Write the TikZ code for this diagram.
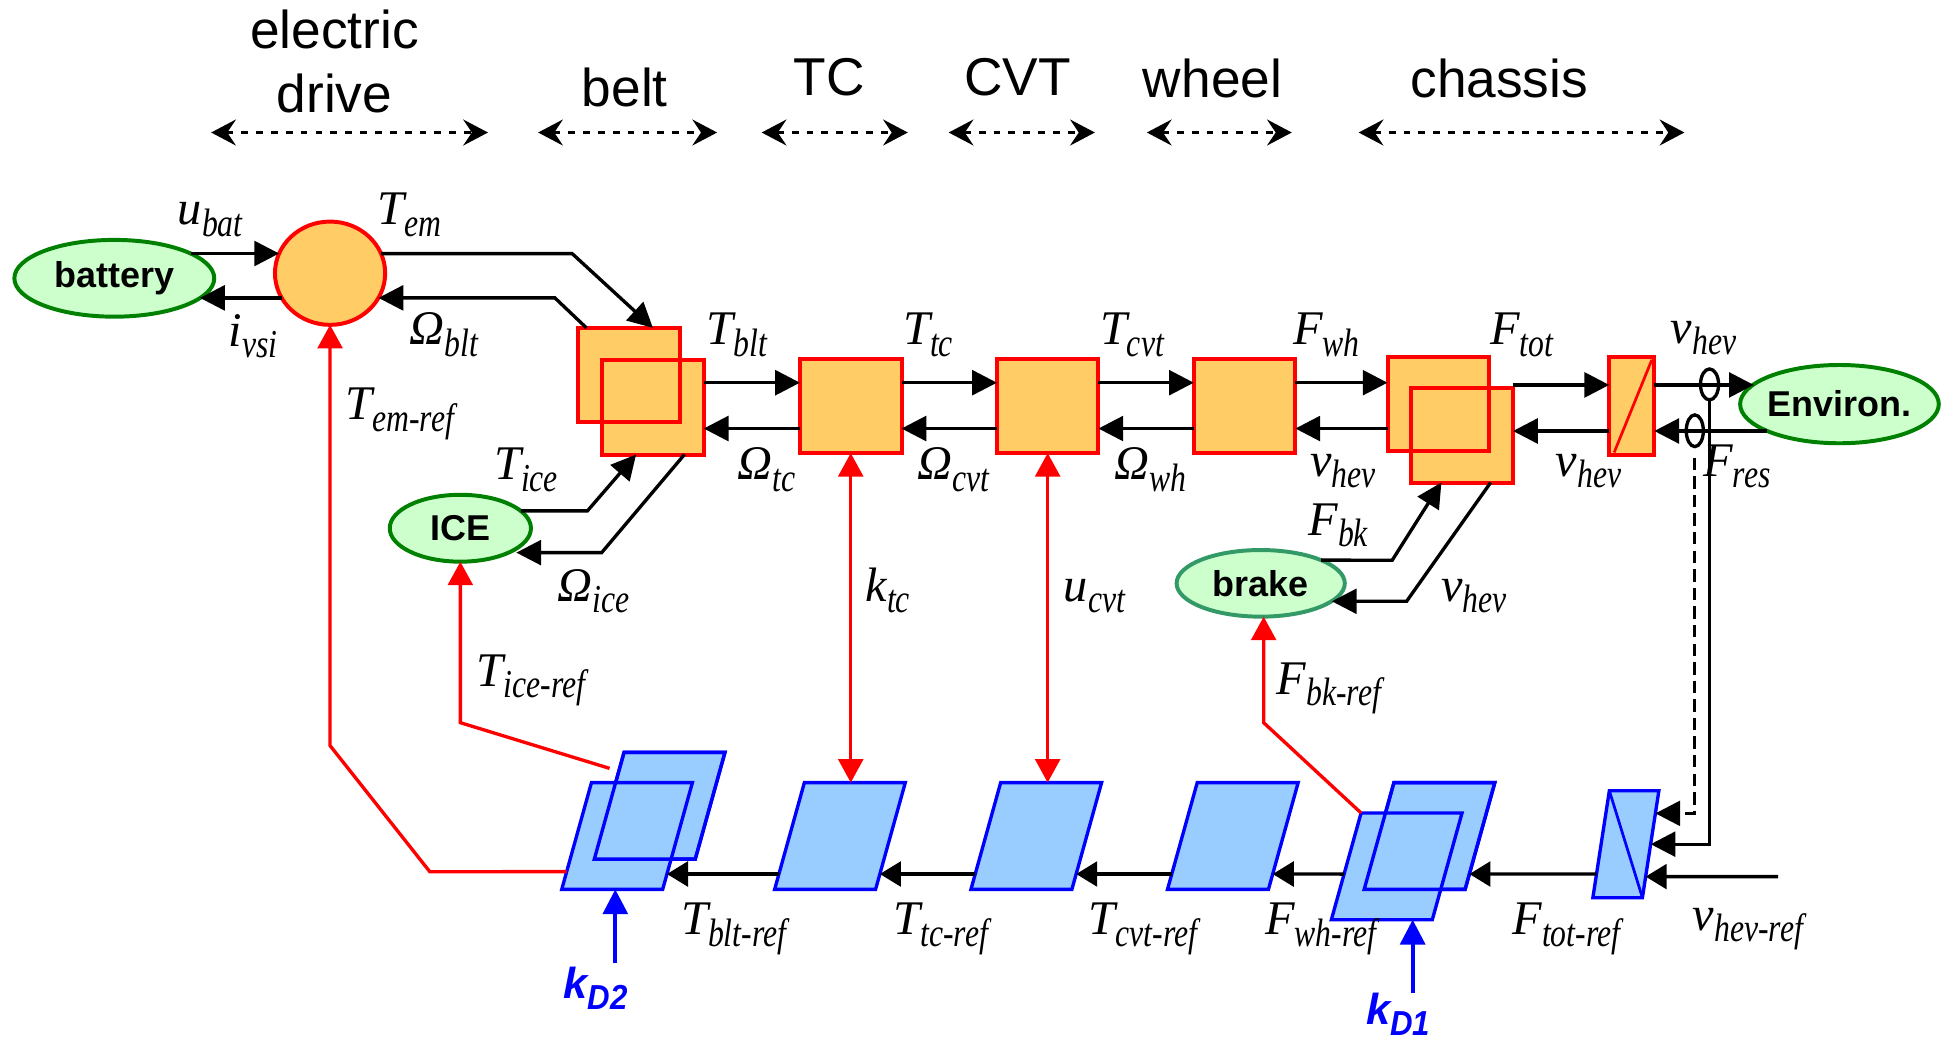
\documentclass[tikz,border=0pt]{standalone}
\usepackage{fontspec}
\setmainfont{Liberation Serif}
\newfontfamily\subf[FakeStretch=0.8]{Liberation Serif}
\newfontfamily\hdrf{Liberation Sans}
\newfontfamily\kdsub[FakeStretch=0.9]{Liberation Sans}
\usetikzlibrary{arrows.meta,shapes.geometric,calc}
\definecolor{orng}{RGB}{255,204,102}
\definecolor{grfill}{RGB}{204,255,204}
\definecolor{grline}{RGB}{0,128,0}
\definecolor{brline}{RGB}{51,153,102}
\definecolor{blfill}{RGB}{153,204,255}
\definecolor{blline}{RGB}{0,0,255}
\definecolor{redl}{RGB}{255,0,0}
\newcommand{\ml}[2]{\fontsize{39}{39}\selectfont\itshape #1\raisebox{-9pt}{\subf\itshape\fontsize{32}{32}\selectfont #2}}
\newcommand{\kd}[2]{\hdrf\bfseries\itshape\fontsize{35}{35}\selectfont #1\raisebox{-9pt}{\kdsub\bfseries\itshape\fontsize{28}{28}\selectfont #2}}
\begin{document}
\begin{tikzpicture}[x=1pt,y=-1pt,
  hdr/.style={font=\hdrf\fontsize{43}{43}\selectfont, anchor=base, inner sep=0pt},
  harr/.style={line width=2.1pt, dash pattern=on 5.5pt off 6.5pt, {Stealth[length=20pt,width=21pt,inset=7pt]}-{Stealth[length=20pt,width=21pt,inset=7pt]}},
  blk/.style={rectangle, draw=redl, fill=orng, line width=3.2pt, minimum width=82pt, minimum height=76pt, inner sep=0pt, outer sep=0pt},
  blkline/.style={draw=redl, line width=3.2pt},
  emc/.style={ellipse, draw=redl, fill=orng, line width=3.2pt, inner sep=0pt, outer sep=0pt, minimum width=89pt, minimum height=83.4pt},
  ell/.style={ellipse, draw=grline, fill=grfill, line width=3.2pt, inner sep=-10pt, outer sep=0pt, font=\hdrf\bfseries\fontsize{29}{29}\selectfont},
  sens/.style={ellipse, draw=black, line width=2.7pt, inner sep=0pt, outer sep=0pt},
  parabase/.style={draw=blline, fill=blfill, line width=2.7pt, inner sep=0pt, outer sep=0pt, transform shape},
  para/.style={parabase, minimum width=81.5pt, minimum height=86.2pt, xslant=0.2784},
  paraline/.style={draw=blline, line width=2.7pt},
  conn/.style={draw=black, line width=2.7pt, -{Triangle[length=20pt,width=20pt]}},
  conn2/.style={draw=black, line width=2.7pt, -{Triangle[length=17pt,width=20pt]}},
  rline/.style={draw=redl, line width=2.7pt},
  rconn/.style={rline, -{Triangle[length=19pt,width=20pt]}},
  rboth/.style={rline, {Triangle[length=19pt,width=20pt]}-{Triangle[length=19pt,width=20pt]}},
  bconn/.style={draw=blline, line width=3pt, -{Triangle[length=20pt,width=20pt]}},
  lab/.style={anchor=base west, inner sep=0pt, outer sep=0pt},
]
\useasboundingbox (0,0) rectangle (1568,842);

% ---------- header ----------
\node[hdr] (hElec) at (270,39) {electric};
\node[hdr] (hDrive) at (270,91) {drive};
\node[hdr] (hBelt) at (504.5,86) {belt};
\node[hdr] (hTC) at (669.5,77) {TC};
\node[hdr] (hCVT) at (821.5,77) {CVT};
\node[hdr] (hWheel) at (979,79) {wheel};
\node[hdr] (hChassis) at (1210.5,79) {chassis};
\coordinate (a1l) at (170.5,107); \coordinate (a1r) at (394,107);
\coordinate (a2l) at (434.5,107); \coordinate (a2r) at (579,107);
\coordinate (a3l) at (615,107);   \coordinate (a3r) at (733,107);
\coordinate (a4l) at (766,107);   \coordinate (a4r) at (884,107);
\coordinate (a5l) at (926,107);   \coordinate (a5r) at (1043,107);
\coordinate (a6l) at (1097,107);  \coordinate (a6r) at (1360,107);
\draw[harr] (a1l) -- (a1r);
\draw[harr] (a2l) -- (a2r);
\draw[harr] (a3l) -- (a3r);
\draw[harr] (a4l) -- (a4r);
\draw[harr] (a5l) -- (a5r);
\draw[harr] (a6l) -- (a6r);

% ---------- top row nodes ----------
\node[ell, minimum width=161.4pt, minimum height=62pt] (bat) at (92.3,224.7) {battery};
\node[emc] (EM) at (266.5,220.6) {};
\node[blk] (beltB) at (507.9,302.7) {};
\node[blk] (beltF) at (527.2,329) {};
\draw[blkline] (beltB.north west) rectangle (beltB.south east);
\node[blk] (TC) at (686.9,327.8) {};
\node[blk] (CVT) at (845.9,327.8) {};
\node[blk] (WH) at (1004.9,327.8) {};
\node[blk] (chB) at (1161.3,326.2) {};
\node[blk] (chF) at (1180.6,351.6) {};
\draw[blkline] (chB.north west) rectangle (chB.south east);
\node[blk, minimum width=36.4pt, minimum height=78.8pt] (sm) at (1317.5,327.9) {};
\draw[redl, line width=2.2pt] ($(sm.south west)+(4,-2)$) -- ($(sm.north east)+(-2,2)$);
\node[ell, minimum width=114pt, minimum height=54pt] (ICE) at (371.7,426.5) {ICE};
\node[ell, draw=brline, minimum width=135.8pt, minimum height=53.8pt] (brake) at (1017.9,471) {brake};
\node[ell, minimum width=160.4pt, minimum height=63.2pt] (env) at (1485.2,326.3) {Environ.};

% ---------- bottom row nodes ----------
\node[para] (bltRb) at (532.6,650.6) {};
\node[para] (bltRf) at (506.3,675) {};
\draw[paraline] (bltRb.south west) -- (bltRb.south east) -- (bltRb.north east) -- (bltRb.north west) -- cycle;
\node[para] (TCr) at (678.2,675) {};
\node[para] (CVTr) at (836.7,675) {};
\node[para] (WHr) at (995.4,675) {};
\node[para] (FwhRb) at (1154.2,675) {};
\node[para] (FwhRf) at (1127.7,699.5) {};
\draw[paraline] (FwhRb.south west) -- (FwhRb.south east) -- (FwhRb.north east) -- (FwhRb.north west) -- cycle;
\node[parabase, minimum width=40pt, minimum height=86.4pt, xslant=0.154] (FtotR) at (1312.75,681.6) {};
\draw[blline, line width=2.2pt] (FtotR.north west) -- (FtotR.south east);

% ---------- top row connectors ----------
\coordinate (yA) at (0,309); \coordinate (yB) at (0,346);
\coordinate (yA2) at (0,310.8); \coordinate (yB2) at (0,348);
\draw[conn] (bat.18) -- (bat.18 -| EM.159);
\draw[conn] (EM.207) -- (EM.207 -| bat.-13);
\coordinate (tem1) at (462,204.8);
\draw[conn] (EM.21) -- (tem1) -- ($(beltB.north west)!0.735!(beltB.north east)$);
\coordinate (ob1) at (448,240.5);
\draw[conn] ($(beltB.north west)!0.08!(beltB.north east)$) -- (ob1) -- (EM.-27);
\draw[conn] (beltF.east |- yA) -- (TC.west |- yA);
\draw[conn] (TC.west |- yB) -- (beltF.east |- yB);
\draw[conn] (TC.east |- yA) -- (CVT.west |- yA);
\draw[conn] (CVT.west |- yB) -- (TC.east |- yB);
\draw[conn] (CVT.east |- yA) -- (WH.west |- yA);
\draw[conn] (WH.west |- yB) -- (CVT.east |- yB);
\draw[conn] (WH.east |- yA) -- (chB.west |- yA);
\draw[conn] (chB.west |- yB) -- (WH.east |- yB);
\draw[conn] (chF.east |- yA2) -- (sm.west |- yA2);
\draw[conn] (sm.west |- yB2) -- (chF.east |- yB2);
\draw[conn] (sm.east |- yA2) -- (env.167 |- yA2);
\draw[conn] (env.200 |- yB2) -- (sm.east |- yB2);
\coordinate (ti1) at (474.3,412.5);
\draw[conn] (ICE.16) -- (ti1) -- ($(beltF.south west)!0.334!(beltF.south east)$);
\coordinate (oi1) at (485.8,446.2);
\draw[conn] ($(beltF.south west)!0.81!(beltF.south east)$) -- (oi1) -- (oi1 -| ICE.-20);
\coordinate (fb1) at (1124.1,452.3);
\draw[conn] (brake.21) -- (fb1) -- ($(chF.south west)!0.295!(chF.south east)$);
\coordinate (vb1) at (1135.7,485.5);
\draw[conn] ($(chF.south west)!0.78!(chF.south east)$) -- (vb1) -- (vb1 -| brake.-14);

% sensors and feedback lines
\node[sens, minimum width=14.6pt, minimum height=25pt] (s1) at (1380.3,310.4) {};
\node[sens, minimum width=13.8pt, minimum height=25.6pt] (s2) at (1368.4,347.8) {};
\draw[conn] (s1.south) |- (FtotR.east);
\coordinate (fdash) at ($(FtotR.south east)!0.788!(FtotR.north east)$);
\draw[conn, dash pattern=on 10pt off 5pt] ($(s2.south)+(0,9)$) |- (fdash);

% ---------- bottom row connectors ----------
\draw[conn2] ($(TCr.south west)!0.144!(TCr.north west)$) -- ($(bltRf.south east)!0.144!(bltRf.north east)$);
\draw[conn2] ($(CVTr.south west)!0.144!(CVTr.north west)$) -- ($(TCr.south east)!0.144!(TCr.north east)$);
\draw[conn2] ($(WHr.south west)!0.144!(WHr.north west)$) -- ($(CVTr.south east)!0.144!(CVTr.north east)$);
\draw[conn2] ($(FwhRf.south west)!0.4276!(FwhRf.north west)$) -- ($(WHr.south east)!0.144!(WHr.north east)$);
\draw[conn2] ($(FtotR.south west)!0.221!(FtotR.north west)$) -- ($(FwhRb.south east)!0.144!(FwhRb.north east)$);
\coordinate (vref) at (1435.6,707.8);
\draw[conn2] (vref) -- ($(FtotR.south east)!0.197!(FtotR.north east)$);

% ---------- red connectors ----------
\coordinate (tr1) at (347,703.8);
\draw[rconn] ($(bltRf.south west)!0.166!(bltRf.north west)$) -- (tr1) -- (EM.south |- 0,602) -- (EM.south);
\coordinate (ir0) at (492.2,620.4);
\draw[rconn] (ir0) -- (ICE.south |- 0,583.5) -- (ICE.south);
\draw[rboth] (TC.south) -- (TC.south |- TCr.north);
\draw[rboth] (CVT.south) -- (CVT.south |- CVTr.north);
\coordinate (br1) at (1020.3,583.5);
\draw[rconn] (FwhRf.north west) -- (br1) -- (br1 |- brake.south);

% ---------- blue inputs ----------
\coordinate (kd2) at (496.8,777.8);
\draw[bconn] (kd2) -- (kd2 |- bltRf.south);
\coordinate (kd1) at (1140.6,801.4);
\draw[bconn] (kd1) -- (kd1 |- FwhRf.south);

% ---------- labels ----------
\node[lab] (Lubat) at (143.7,181.6) {\ml{u}{bat}};
\node[lab] (LTem) at (305,181.6) {\ml{T}{em}};
\node[lab] (Livsi) at (184.6,279.9) {\ml{i}{vsi}};
\node[lab] (LOblt) at (331,278.5) {\ml{Ω}{blt}};
\node[lab] (LTemref) at (279,339) {\ml{T}{em-ref}};
\node[lab] (LTice) at (399,387.5) {\ml{T}{ice}};
\node[lab] (LOice) at (450,485.7) {\ml{Ω}{ice}};
\node[lab] (LTblt) at (570.5,278.5) {\ml{T}{blt}};
\node[lab] (LTtc) at (729.2,278.5) {\ml{T}{tc}};
\node[lab] (LTcvt) at (888.2,278.5) {\ml{T}{cvt}};
\node[lab] (LFwh) at (1044,278.5) {\ml{F}{wh}};
\node[lab] (LOtc) at (595.3,387.5) {\ml{Ω}{tc}};
\node[lab] (LOcvt) at (740.9,387.5) {\ml{Ω}{cvt}};
\node[lab] (LOwh) at (900,387.5) {\ml{Ω}{wh}};
\node[lab] (Lktc) at (699,485.7) {\ml{k}{tc}};
\node[lab] (Lucvt) at (859,485.7) {\ml{u}{cvt}};
\node[lab] (Lvhev1) at (1058,385) {\ml{v}{hev}};
\node[lab] (LFbk) at (1056.5,432) {\ml{F}{bk}};
\node[lab] (LFtot) at (1203.4,278.5) {\ml{F}{tot}};
\node[lab] (Lvhev2) at (1349,277.5) {\ml{v}{hev}};
\node[lab] (Lvhev3) at (1256.3,385) {\ml{v}{hev}};
\node[lab] (LFres) at (1375.3,385) {\ml{F}{res}};
\node[lab] (Lvhev4) at (1163.8,485.7) {\ml{v}{hev}};
\node[lab] (LTiceref) at (385,554) {\ml{T}{ice-ref}};
\node[lab] (LFbkref) at (1031,561) {\ml{F}{bk-ref}};
\node[lab] (LTbltref) at (550,754.9) {\ml{T}{blt-ref}};
\node[lab] (LTtcref) at (721.5,754.9) {\ml{T}{tc-ref}};
\node[lab] (LTcvtref) at (879,754.9) {\ml{T}{cvt-ref}};
\node[lab] (LFwhref) at (1021.5,754.9) {\ml{F}{wh-ref}};
\node[lab] (LFtotref) at (1221.3,754.9) {\ml{F}{tot-ref}};
\node[lab] (Lvhevref) at (1366.9,751) {\ml{v}{hev-ref}};
\node[lab, text=blline] (LkD2) at (455,806) {\kd{k}{D2}};
\node[lab, text=blline] (LkD1) at (1103,827) {\kd{k}{D1}};
\end{tikzpicture}
\end{document}
